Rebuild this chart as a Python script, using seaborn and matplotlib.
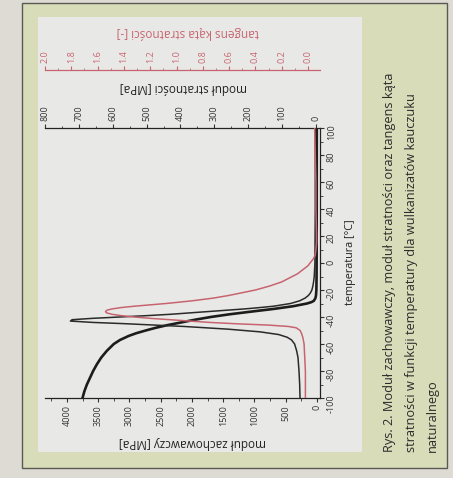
import matplotlib
matplotlib.use("Agg")
import matplotlib.pyplot as plt
import seaborn as sns
from matplotlib.patches import Rectangle
from matplotlib.ticker import MultipleLocator, FormatStrFormatter

# temperatura [°C] i moduł zachowawczy E' [MPa]
temp_storage = [-100, -95, -90, -85, -80, -75, -70, -65, -60, -57, -54, -52, -50, -48, -46,
                -44, -42, -40, -38, -36, -34, -32, -30, -29, -28, -26, -24, -20, -10, 0,
                20, 40, 60, 80, 100]
storage = [3750, 3720, 3680, 3630, 3580, 3520, 3450, 3360, 3250, 3150, 3010, 2890, 2740, 2580, 2390,
           2170, 1950, 1700, 1400, 1050, 690, 380, 160, 90, 50, 25, 16, 10, 7, 6,
           5, 4.5, 4, 3.5, 3]

# moduł stratności E'' [MPa]
temp_loss = [-100, -90, -80, -70, -65, -60, -57, -55, -53, -51, -49, -47, -45, -44, -43, -42,
             -41, -40, -39, -38, -37, -36, -35, -34, -33, -32, -30, -28, -26, -24, -22, -20,
             -17, -14, -10, -5, 0, 20, 40, 60, 80, 100]
loss = [47, 48, 50, 53, 57, 63, 72, 85, 110, 165, 260, 390, 560, 660, 725, 720,
        660, 580, 500, 430, 375, 320, 265, 210, 165, 125, 75, 48, 32, 22, 16, 12,
        9, 7, 5, 4, 3, 2.5, 2, 2, 2, 2]

# tangens kąta stratności [-]
temp_tan = [-100, -80, -70, -60, -55, -52, -50, -48, -47, -46, -45, -44, -43, -42, -41, -40,
            -39, -38, -37, -36, -35, -34, -33, -32, -31, -30, -29, -28, -26, -24, -22, -20,
            -17, -14, -11, -8, -5, -2, 0, 3, 6, 10, 15, 20, 40, 60, 80, 100]
tan_delta = [0.02, 0.02, 0.025, 0.03, 0.04, 0.05, 0.06, 0.09, 0.15, 0.3, 0.55, 0.75, 0.9, 1.05, 1.2, 1.32,
             1.42, 1.49, 1.53, 1.54, 1.53, 1.49, 1.42, 1.32, 1.2, 1.08, 0.98, 0.88, 0.72, 0.6, 0.5, 0.4,
             0.29, 0.2, 0.14, 0.08, 0.04, 0.0, -0.015, -0.04, -0.055, -0.06, -0.065, -0.065, -0.06, -0.06, -0.055, -0.05]

caption = ["Rys. 2. Moduł zachowawczy, moduł stratności oraz tangens kąta",
           "stratności w funkcji temperatury dla wulkanizatów kauczuku",
           "naturalnego"]

W, H = 453, 478
PINK = "#c86470"
INK = "#1c1c1c"

sns.set_style("ticks")
plt.rcParams["font.family"] = ["Open Sans", "DejaVu Sans"]
plt.rcParams["axes.unicode_minus"] = False

fig = plt.figure(figsize=(W / 100, H / 100), dpi=100)
fig.patch.set_facecolor("#dddbd3")


def px_rect(x0, y0, x1, y1, **kw):
    r = Rectangle((x0 / W, 1 - y1 / H), (x1 - x0) / W, (y1 - y0) / H,
                  transform=fig.transFigure, zorder=-5, **kw)
    fig.add_artist(r)


def px_text(x, y, s, **kw):
    fig.text(x / W, 1 - y / H, s, **kw)


# tło strony, ramka, panel wykresu
px_rect(22, 3, 447, 468, facecolor="#d9dcb9", edgecolor="#5a5a55", lw=1.0)
px_rect(38, 17, 362, 452, facecolor="#e8e9e6", edgecolor="none")

ax = fig.add_axes([45 / W, 1 - 398 / H, 275 / W, 270 / H])
ax.patch.set_alpha(0)

sns.lineplot(x=storage, y=temp_storage, sort=False, estimator=None, color=INK, lw=1.9, ax=ax)
ax.set_xlim(4350, -48)
ax.set_ylim(-100, 100)
ax.xaxis.set_major_locator(MultipleLocator(500))
ax.xaxis.set_minor_locator(MultipleLocator(250))
ax.yaxis.set_major_locator(MultipleLocator(20))
ax.yaxis.set_minor_locator(MultipleLocator(10))
ax.yaxis.tick_right()
ax.spines["left"].set_visible(False)
ax.spines["top"].set_visible(False)
ax.set_xlabel("")
ax.set_ylabel("")
ax.tick_params(axis="both", which="major", direction="out", length=3, width=0.8,
               labelsize=6.5, labelrotation=90, colors="#333333", pad=2)
ax.tick_params(axis="both", which="minor", direction="out", length=1.8, width=0.6, colors="#333333")
for s in ["bottom", "right"]:
    ax.spines[s].set_linewidth(0.9)
    ax.spines[s].set_color("#222222")

# moduł stratności - oś górna
ax2 = ax.twiny()
ax2.patch.set_alpha(0)
sns.lineplot(x=loss, y=temp_loss, sort=False, estimator=None, color="#2a2a2a", lw=1.1, ax=ax2)
ax2.set_xlim(800, -12)
ax2.xaxis.set_major_locator(MultipleLocator(100))
ax2.xaxis.set_minor_locator(MultipleLocator(50))
for s in ["left", "right", "bottom"]:
    ax2.spines[s].set_visible(False)
ax2.spines["top"].set_linewidth(0.9)
ax2.spines["top"].set_color("#222222")
ax2.set_xlabel("")
ax2.tick_params(axis="x", which="major", direction="out", length=3, width=0.8,
                labelsize=6.5, labelrotation=90, colors="#333333", pad=2)
ax2.tick_params(axis="x", which="minor", direction="out", length=1.8, width=0.6, colors="#333333")

# tangens kąta stratności - oś odsunięta
ax3 = ax.twiny()
ax3.patch.set_alpha(0)
sns.lineplot(x=tan_delta, y=temp_tan, sort=False, estimator=None, color=PINK, lw=1.1, ax=ax3)
ax3.set_xlim(2.0, -0.091)
ax3.spines["top"].set_position(("outward", 42))
ax3.xaxis.set_major_locator(MultipleLocator(0.2))
ax3.xaxis.set_minor_locator(MultipleLocator(0.1))
ax3.xaxis.set_major_formatter(FormatStrFormatter("%.1f"))
for s in ["left", "right", "bottom"]:
    ax3.spines[s].set_visible(False)
ax3.spines["top"].set_color(PINK)
ax3.spines["top"].set_linewidth(0.9)
ax3.set_xlabel("")
ax3.tick_params(axis="x", which="major", direction="out", length=3, width=0.8,
                labelsize=6.5, labelrotation=90, colors=PINK, pad=2)
ax3.tick_params(axis="x", which="minor", direction="out", length=1.8, width=0.6, colors=PINK)

# opisy osi (obrócone jak na zdjęciu)
px_text(192, 443, "moduł zachowawczy [MPa]", rotation=180, ha="center", va="center",
        fontsize=8.5, color="#222222")
px_text(183, 88, "moduł stratności [MPa]", rotation=180, ha="center", va="center",
        fontsize=8.5, color="#222222")
px_text(188, 33, "tangens kąta stratności [-]", rotation=180, ha="center", va="center",
        fontsize=8.5, color=PINK)
px_text(350, 262, "temperatura [°C]", rotation=90, ha="center", va="center",
        fontsize=7.8, color="#222222")

# podpis rysunku
for i, line in enumerate(caption):
    px_text(390 + i * 21, 452, line, rotation=90, ha="center", va="bottom",
            fontsize=9.2, color="#2b2b2b")

fig.savefig("out.png", dpi=100, facecolor=fig.get_facecolor())
